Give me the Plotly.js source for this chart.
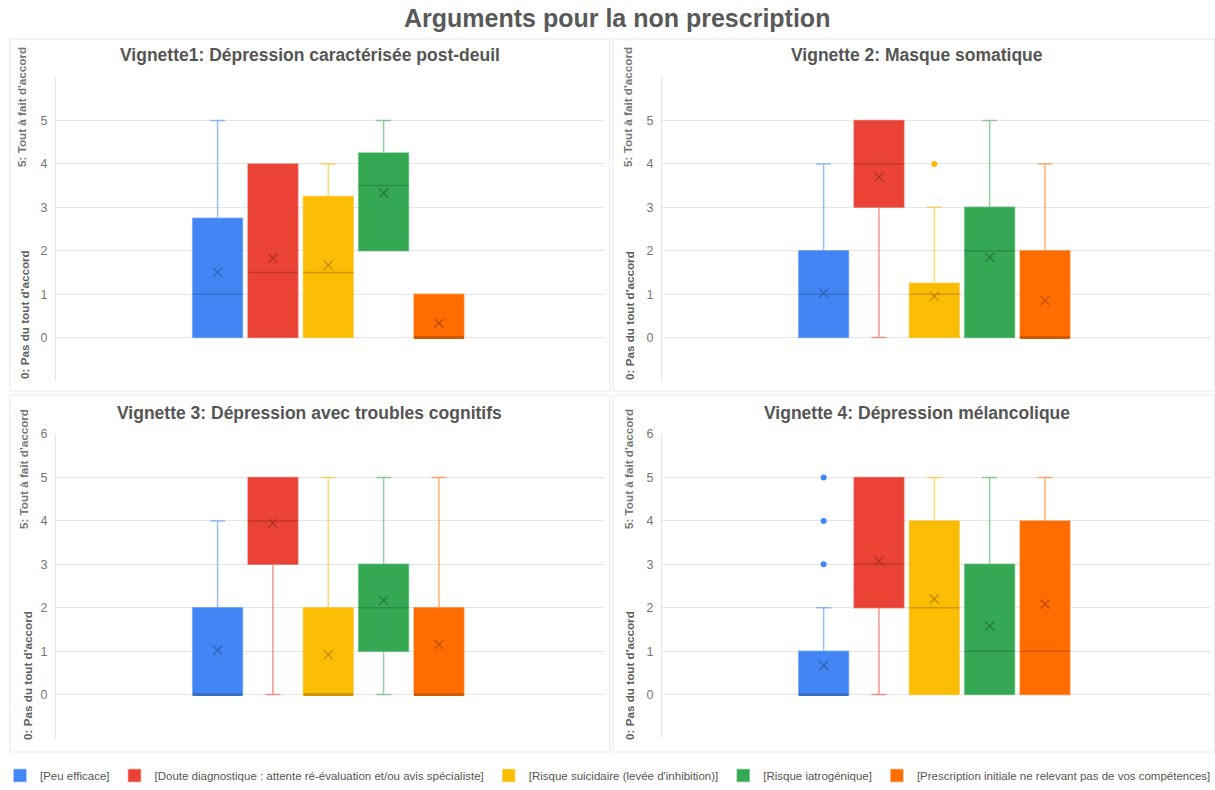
<!DOCTYPE html>
<html>
<head>
<meta charset="utf-8">
<script src="https://cdn.plot.ly/plotly-3.0.1.min.js"></script>
<style>html,body{margin:0;padding:0;background:#fff;}#chart{width:1215px;height:790px;}</style>
</head>
<body>
<div id="chart"></div>
<script>
// ---------- DATA ----------
const seriesNames = [
  "[Peu efficace]",
  "[Doute diagnostique : attente ré-évaluation et/ou avis spécialiste]",
  "[Risque suicidaire (levée d'inhibition)]",
  "[Risque iatrogénique]",
  "[Prescription initiale ne relevant pas de vos compétences]"
];
const seriesColors = ["#4285F4", "#EA4335", "#FBBC04", "#34A853", "#FF6D01"];
const panelTitles = [
  "Vignette1: Dépression caractérisée post-deuil",
  "Vignette 2: Masque somatique",
  "Vignette 3: Dépression avec troubles cognitifs",
  "Vignette 4: Dépression mélancolique"
];
const yLabelHigh = "5: Tout à fait d'accord";
const yLabelLow = "0: Pas du tout d'accord";
const mainTitle = "Arguments pour la non prescription";

// Vignette 1
const v1_lower = [0, 0, 0, 2, 0];
const v1_q1    = [0, 0, 0, 2, 0];
const v1_med   = [1, 1.5, 1.5, 3.5, 0];
const v1_q3    = [2.75, 4, 3.25, 4.25, 1];
const v1_upper = [5, 4, 4, 5, 1];
const v1_mean  = [1.5, 1.83, 1.67, 3.33, 0.33];
const v1_out   = [[], [], [], [], []];
// Vignette 2
const v2_lower = [0, 0, 0, 0, 0];
const v2_q1    = [0, 3, 0, 0, 0];
const v2_med   = [1, 4, 1, 2, 0];
const v2_q3    = [2, 5, 1.25, 3, 2];
const v2_upper = [4, 5, 3, 5, 4];
const v2_mean  = [1.02, 3.7, 0.95, 1.85, 0.85];
const v2_out   = [[], [], [4], [], []];
// Vignette 3
const v3_lower = [0, 0, 0, 0, 0];
const v3_q1    = [0, 3, 0, 1, 0];
const v3_med   = [0, 4, 0, 2, 0];
const v3_q3    = [2, 5, 2, 3, 2];
const v3_upper = [4, 5, 5, 5, 5];
const v3_mean  = [1.02, 3.95, 0.92, 2.17, 1.15];
const v3_out   = [[], [], [], [], []];
// Vignette 4
const v4_lower = [0, 0, 0, 0, 0];
const v4_q1    = [0, 2, 0, 0, 0];
const v4_med   = [0, 3, 2, 1, 1];
const v4_q3    = [1, 5, 4, 3, 4];
const v4_upper = [2, 5, 5, 5, 5];
const v4_mean  = [0.67, 3.08, 2.2, 1.58, 2.08];
const v4_out   = [[3, 4, 5], [], [], [], []];

const yTickVals = [-1, 0, 1, 2, 3, 4, 5, 6];
const yTickTextTop = ["", "0", "1", "2", "3", "4", "5", ""];
const yTickTextBottom = ["", "0", "1", "2", "3", "4", "5", "6"];

// ---------- BUILD ----------
const panels = [
  {lo: v1_lower, q1: v1_q1, med: v1_med, q3: v1_q3, hi: v1_upper, mean: v1_mean, out: v1_out, ax: ""},
  {lo: v2_lower, q1: v2_q1, med: v2_med, q3: v2_q3, hi: v2_upper, mean: v2_mean, out: v2_out, ax: "2"},
  {lo: v3_lower, q1: v3_q1, med: v3_med, q3: v3_q3, hi: v3_upper, mean: v3_mean, out: v3_out, ax: "3"},
  {lo: v4_lower, q1: v4_q1, med: v4_med, q3: v4_q3, hi: v4_upper, mean: v4_mean, out: v4_out, ax: "4"}
];

function hexToRgba(hex, a) {
  const r = parseInt(hex.slice(1, 3), 16), g = parseInt(hex.slice(3, 5), 16), b = parseInt(hex.slice(5, 7), 16);
  return `rgba(${r},${g},${b},${a})`;
}
function darken(hex, f) {
  const r = parseInt(hex.slice(1, 3), 16), g = parseInt(hex.slice(3, 5), 16), b = parseInt(hex.slice(5, 7), 16);
  return `rgb(${Math.round(r * f)},${Math.round(g * f)},${Math.round(b * f)})`;
}

const BOXW = 0.9;
const traces = [];
panels.forEach((p, pi) => {
  const xa = "x" + p.ax, ya = "y" + p.ax;
  seriesNames.forEach((name, i) => {
    const col = seriesColors[i];
    traces.push({
      type: "box", name: name, legendgroup: "s" + i, showlegend: pi === 0,
      x: [i], q1: [p.q1[i]], median: [p.med[i]], q3: [p.q3[i]],
      lowerfence: [p.lo[i]], upperfence: [p.hi[i]],
      xaxis: xa, yaxis: ya, width: BOXW, whiskerwidth: 0.3,
      fillcolor: col, line: {color: hexToRgba(col, 0.55), width: 1.5},
      boxpoints: false, hoverinfo: "y"
    });
    // median line
    traces.push({
      type: "scatter", mode: "lines", showlegend: false, hoverinfo: "skip",
      x: [i - BOXW / 2, i + BOXW / 2], y: [p.med[i], p.med[i]],
      xaxis: xa, yaxis: ya, line: {color: darken(col, 0.82), width: p.med[i] === p.q1[i] ? 3 : 1.5}
    });
    // mean marker
    traces.push({
      type: "scatter", mode: "markers", showlegend: false, hoverinfo: "y",
      x: [i], y: [p.mean[i]], xaxis: xa, yaxis: ya,
      marker: {symbol: "x-thin", size: 9, color: darken(col, 0.72), line: {color: darken(col, 0.72), width: 1.2}}
    });
    // outliers
    if (p.out[i].length) {
      traces.push({
        type: "scatter", mode: "markers", showlegend: false, hoverinfo: "y",
        x: p.out[i].map(() => i), y: p.out[i], xaxis: xa, yaxis: ya,
        marker: {symbol: "circle", size: 6, color: col}
      });
    }
  });
});

const font = "Arial, 'Liberation Sans', sans-serif";
const xDomL = [0.0461, 0.4979], xDomR = [0.5449, 0.9967];
const yDomT = [0.5177, 0.9025], yDomB = [0.0658, 0.4506];
const xRange = [-2.92, 7.0];

function xAxis(dom, anchor) {
  return {domain: dom, anchor: anchor, range: xRange, showgrid: false, zeroline: false,
          showticklabels: false, showline: false, fixedrange: true};
}
function yAxis(dom, anchor, ticktext) {
  return {domain: dom, anchor: anchor, range: [-1, 6], tickmode: "array", tickvals: yTickVals, ticktext: ticktext,
          showgrid: true, gridcolor: "#e6e6e6", gridwidth: 1, zeroline: false,
          showline: true, linecolor: "#e6e6e6", linewidth: 1, ticks: "", ticklabelstandoff: 5,
          tickfont: {family: font, size: 12.5, color: "#757575"}, fixedrange: true};
}

const titleFont = {family: font, size: 17.5, color: "#555555"};
const annotations = [
  {text: "<b>" + panelTitles[0] + "</b>", x: 0.2551, y: 0.9304},
  {text: "<b>" + panelTitles[1] + "</b>", x: 0.7547, y: 0.9304},
  {text: "<b>" + panelTitles[2] + "</b>", x: 0.2551, y: 0.4772},
  {text: "<b>" + panelTitles[3] + "</b>", x: 0.7547, y: 0.4772}
].map(a => Object.assign(a, {xref: "paper", yref: "paper", showarrow: false, xanchor: "center", yanchor: "middle", font: titleFont}));

const yLabs = [
  [0.0181, 0.8646, yLabelHigh, "#777777"], [0.0206, 0.6013, yLabelLow, "#606060"],
  [0.5169, 0.8646, yLabelHigh, "#777777"], [0.5185, 0.6013, yLabelLow, "#606060"],
  [0.0190, 0.4063, yLabelHigh, "#777777"], [0.0230, 0.1456, yLabelLow, "#606060"],
  [0.5169, 0.4063, yLabelHigh, "#777777"], [0.5185, 0.1456, yLabelLow, "#606060"]
];
yLabs.forEach(l => annotations.push({
  text: "<b>" + l[2] + "</b>", x: l[0], y: l[1], xref: "paper", yref: "paper", textangle: -90,
  showarrow: false, xanchor: "center", yanchor: "middle", font: {family: font, size: 11.7, color: l[3]}
}));

const borderLine = {color: "#e8e8e8", width: 1};
const shapes = [
  {x0: 0.0082, x1: 0.502, y0: 0.505, y1: 0.9506},
  {x0: 0.5045, x1: 0.9995, y0: 0.505, y1: 0.9506},
  {x0: 0.0082, x1: 0.502, y0: 0.0481, y1: 0.5},
  {x0: 0.5045, x1: 0.9995, y0: 0.0481, y1: 0.5}
].map(s => Object.assign(s, {type: "rect", xref: "paper", yref: "paper", line: borderLine, fillcolor: "rgba(0,0,0,0)", layer: "below"}));

const layout = {
  width: 1215, height: 790,
  margin: {l: 0, r: 0, t: 0, b: 0},
  paper_bgcolor: "#ffffff", plot_bgcolor: "#ffffff",
  font: {family: font, color: "#555555"},
  title: {text: "<b>" + mainTitle + "</b>", x: 0.508, xanchor: "center", y: 0.977, yanchor: "middle",
          xref: "paper", yref: "paper", font: {family: font, size: 25, color: "#595959"}},
  xaxis: xAxis(xDomL, "y"), yaxis: yAxis(yDomT, "x", yTickTextTop),
  xaxis2: xAxis(xDomR, "y2"), yaxis2: yAxis(yDomT, "x2", yTickTextTop),
  xaxis3: xAxis(xDomL, "y3"), yaxis3: yAxis(yDomB, "x3", yTickTextBottom),
  xaxis4: xAxis(xDomR, "y4"), yaxis4: yAxis(yDomB, "x4", yTickTextBottom),
  showlegend: true,
  legend: {orientation: "h", x: 0.503, xanchor: "center", y: 0.018, yanchor: "middle",
           font: {family: font, size: 11.5, color: "#555555"}, itemwidth: 30, traceorder: "normal",
           bgcolor: "rgba(0,0,0,0)"},
  annotations: annotations,
  shapes: shapes,
  boxmode: "overlay"
};

Plotly.newPlot("chart", traces, layout, {displayModeBar: false, staticPlot: true});
</script>
</body>
</html>
